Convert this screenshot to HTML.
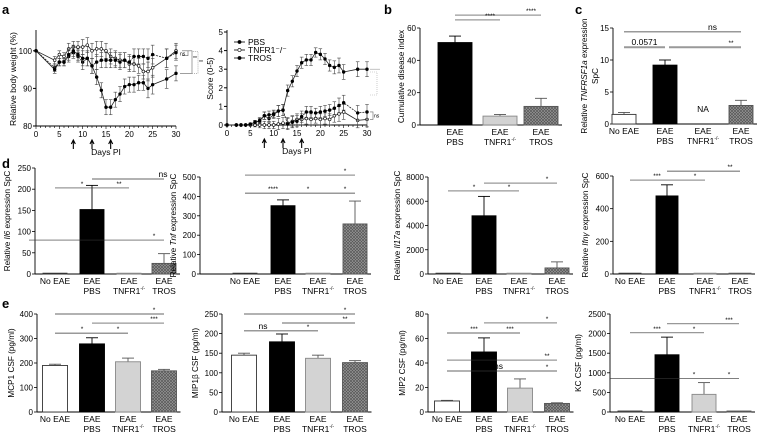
<!DOCTYPE html>
<html><head><meta charset="utf-8"><style>
html,body{margin:0;padding:0;background:#fff;}
svg{display:block;font-family:"Liberation Sans",Arial,sans-serif;}
</style></head><body>
<svg id="fig" width="760" height="435" viewBox="0 0 760 435" xmlns="http://www.w3.org/2000/svg">
<defs>
<pattern id="hatch" width="3" height="3" patternUnits="userSpaceOnUse">
<rect width="3" height="3" fill="#9a9a9a"/>
<path d="M0,0 L3,3 M3,0 L0,3" stroke="#555" stroke-width="0.7"/>
</pattern>
</defs>
<g font-weight="bold" font-size="13" fill="#000">
<text x="2" y="14">a</text>
<text x="384" y="14">b</text>
<text x="575" y="14">c</text>
<text x="2" y="168">d</text>
<text x="2" y="308">e</text>
</g>
</svg>
<script>
// ---------- Panel a data ----------
const weightDays = [0,4,5,6,7,8,9,10,11,12,13,14,15,16,17,18,19,20,21,22,23,24,25,28,30];
const weightPBS = [100,95,97,97,99,100,99,98,98,96,93,89.5,85,85,87,88.5,90.5,91,91,91.5,91.5,90,91,92.5,94];
const weightTNFR1 = [100,97.5,99,98.5,100.5,101,101,101,101.5,100,100.5,100.5,100,98.5,98,97.5,97.5,96.5,96.5,96,94.5,94.5,95.5,98,100];
const weightTROS = [100,95.5,97,97,98.5,99.5,98.5,97,98,96,97,97.5,97.5,97.5,97.5,97,97.5,97,98.5,98.5,98.5,98,99,98,99.5];
const weightErr = [0,1,1,1,1.5,1.5,1.5,2,2,2,2,2,2,2,2,2,2,2,2,2,2,2.5,2.5,2.5,2];
const weightTicksY = [80,90,100];
const weightTicksX = [0,5,10,15,20,25,30];
const scoreDays = [0,2,3,4,5,6,7,8,9,10,11,12,13,14,15,16,17,18,19,20,21,22,23,24,25,28,30];
const scorePBS = [0,0,0,0,0.05,0.15,0.25,0.5,0.55,0.6,0.75,0.8,1.85,2.35,2.9,3.35,3.5,3.5,3.9,3.8,3.55,3.2,3.1,3.2,2.85,3.0,3.0];
const scoreTNFR1 = [0,0,0,0,0,0,0,0,0,0,0.05,0.1,0.1,0.2,0.3,0.3,0.35,0.3,0.35,0.3,0.35,0.3,0.5,0.6,0.7,0.25,0.3];
const scoreTROS = [0,0,0,0,0.05,0.15,0.2,0.5,0.35,0.55,0.75,0.8,0.05,0.15,0.2,0.45,0.7,0.7,0.65,0.7,0.75,0.8,0.9,1.05,1.2,0.65,0.7];
const scoreErr = [0,0,0,0,0.05,0.1,0.15,0.2,0.2,0.2,0.3,0.3,0.3,0.3,0.3,0.3,0.3,0.3,0.25,0.3,0.3,0.3,0.35,0.4,0.4,0.4,0.4];
const scoreTicksY = [0,1,2,3,4,5];
const arrowDays = [8,12,16];

// ---------- Bar chart data ----------
const catsB = ["EAE|PBS","EAE|TNFR1-/-","EAE|TROS"];
const valsB = [51,5.5,11.5];
const errB = [4,1,5];
const ticksB = [0,20,40,60];
const cats4 = ["No EAE","EAE|PBS","EAE|TNFR1-/-","EAE|TROS"];
const valsC = [1.5,9.2,0,2.9];
const errC = [0.3,0.8,0,0.8];
const ticksC = [0,5,10,15];
const valsIl6 = [1,152,1,25];
const errIl6 = [0,57,0,23];
const ticksIl6 = [0,50,100,150,200,250];
const valsTnf = [1,352,2,258];
const errTnf = [0,30,0,118];
const ticksTnf = [0,100,200,300,400,500];
const valsIl17 = [0,4800,0,500];
const errIl17 = [0,1600,0,500];
const ticksIl17 = [0,2000,4000,6000,8000];
const valsIfng = [2,478,2,2];
const errIfng = [0,68,0,0];
const ticksIfng = [0,200,400,600];
const valsMCP1 = [190,278,205,168];
const errMCP1 = [5,25,15,6];
const ticksMCP1 = [0,100,200,300,400];
const valsMIP1b = [145,179,137,126];
const errMIP1b = [5,20,8,5];
const ticksMIP1b = [0,50,100,150,200,250];
const valsMIP2 = [9,49,19.5,7];
const errMIP2 = [0.5,11.5,7.5,0.5];
const ticksMIP2 = [0,20,40,60,80];
const valsKC = [25,1460,450,25];
const errKC = [0,450,300,0];
const ticksKC = [0,500,1000,1500,2000,2500];

const NS = "http://www.w3.org/2000/svg";
const svg = document.getElementById('fig');
function mk(tag, attrs, parent, txt){
  const e = document.createElementNS(NS, tag);
  for (const k in attrs) e.setAttribute(k, attrs[k]);
  if (txt !== undefined) e.textContent = txt;
  (parent||svg).appendChild(e);
  return e;
}

// ---------- Line charts ----------
function lineChart(o){
  const g = mk('g', {});
  
  
  const X = d => o.x0 + (d - o.xmin) * (o.x1 - o.x0) / (o.xmax - o.xmin);
  const Y = v => o.y0 - (v - o.ymin) * (o.y0 - o.y1) / (o.ymax - o.ymin);
  mk('line', {x1:o.x0, y1:o.y0, x2:o.x0, y2:o.y1-2, stroke:'#000', 'stroke-width':0.9}, g);
  mk('line', {x1:o.x0, y1:o.y0, x2:o.x1, y2:o.y0, stroke:'#000', 'stroke-width':0.9}, g);
  o.ticksY.forEach(t => {
    mk('line', {x1:o.x0-3, y1:Y(t), x2:o.x0, y2:Y(t), stroke:'#000'}, g);
    const tl = mk('text', {x:o.x0-4, y:Y(t)+3, 'font-size':8, 'text-anchor':'end'}, g, t);
    
    
  });
  for (let d = o.xmin; d <= o.xmax; d++) {
    const big = d % 5 === 0;
    mk('line', {x1:X(d), y1:o.y0, x2:X(d), y2:o.y0+(big?3:2), stroke:'#000', 'stroke-width':0.6}, g);
  }
  o.ticksX.forEach(t => {
    const tl = mk('text', {x:X(t), y:o.y0+11, 'font-size':8, 'text-anchor':'middle'}, g, t);
    
    
  });
  arrowDays.forEach(d => {
    const a = mk('path', {d:`M${X(d)},${o.y0+23} L${X(d)},${o.y0+15} M${X(d)-2},${o.y0+18} L${X(d)},${o.y0+14} L${X(d)+2},${o.y0+18}`, stroke:'#000', 'stroke-width':1.1, fill:'none'}, g);
    
    
  });
  const xt = mk('text', {x:(o.x0+o.x1)/2, y:o.y0+29, 'font-size':8.5, 'text-anchor':'middle'}, g, 'Days PI');
  
  
  const yt = mk('text', {x:0, y:0, 'font-size':8.5, 'text-anchor':'middle', transform:`translate(${o.ylabX},${(o.y0+o.y1)/2}) rotate(-90)`}, g, o.ylabel);
  
  
  o.series.forEach(s => {
    const sg = mk('g', {}, g);
    
    
    s.vals.forEach((v,i) => {
      const x = X(o.days[i]);
      mk('line', {x1:x, y1:Y(v+o.err[i]), x2:x, y2:Y(v-o.err[i]), stroke:'#444', 'stroke-width':0.6}, sg);
      mk('line', {x1:x-1.8, y1:Y(v+o.err[i]), x2:x+1.8, y2:Y(v+o.err[i]), stroke:'#444', 'stroke-width':0.6}, sg);
      mk('line', {x1:x-1.8, y1:Y(v-o.err[i]), x2:x+1.8, y2:Y(v-o.err[i]), stroke:'#444', 'stroke-width':0.6}, sg);
    });
    const pts = s.vals.map((v,i) => X(o.days[i]) + ',' + Y(v)).join(' ');
    const pl = mk('polyline', {points:pts, fill:'none', stroke:'#222', 'stroke-width':0.8, 'stroke-dasharray':s.dash||'none'}, sg);
    
    
    s.vals.forEach((v,i) => {
      const c = mk('circle', {cx:X(o.days[i]), cy:Y(v), r:1.4, fill:s.open?'#fff':'#000', stroke:'#000', 'stroke-width':0.6}, sg);
      
      
    });
  });
  return {g, X, Y};
}

const wa = lineChart({name:'weight-chart', x0:36, x1:176, xmin:0, xmax:30, y0:126, y1:32, ymin:80, ymax:105,
  ticksY:weightTicksY, ticksX:weightTicksX, ylabel:'Relative body weight (%)', ylabX:16, days:weightDays, err:weightErr,
  series:[{key:'tnfr1',vals:weightTNFR1,open:true},{key:'tros',vals:weightTROS,dash:'2,1'},{key:'pbs',vals:weightPBS}]});
mk('path', {d:`M182,${wa.Y(100)} L188,${wa.Y(100)} L188,${wa.Y(98.7)} L182,${wa.Y(98.7)}`, fill:'none', stroke:'#666', 'stroke-width':0.6}, wa.g);
mk('text', {x:180, y:wa.Y(99.3)+2, 'font-size':5}, wa.g, 'ns');
mk('path', {d:`M180,${wa.Y(94)} L192,${wa.Y(94)} L192,${wa.Y(100)} L188,${wa.Y(100)}`, fill:'none', stroke:'#666', 'stroke-width':0.6}, wa.g);
mk('path', {d:`M192,${wa.Y(94)} L198,${wa.Y(94)} L198,${wa.Y(99.8)} L192,${wa.Y(99.8)}`, fill:'none', stroke:'#888', 'stroke-width':0.6, 'stroke-dasharray':'1,1'}, wa.g);
mk('text', {x:193, y:wa.Y(97.5), 'font-size':5}, wa.g, '**');
mk('text', {x:199, y:wa.Y(96.5), 'font-size':5}, wa.g, '**');

const sa = lineChart({name:'score-chart', x0:227, x1:367, xmin:0, xmax:30, y0:125, y1:32, ymin:0, ymax:5,
  ticksY:scoreTicksY, ticksX:weightTicksX, ylabel:'Score (0-5)', ylabX:213, days:scoreDays, err:scoreErr,
  series:[{key:'tnfr1',vals:scoreTNFR1,open:true},{key:'tros',vals:scoreTROS,dash:'2,1'},{key:'pbs',vals:scorePBS}]});
mk('line', {x1:370, y1:sa.Y(3), x2:380, y2:sa.Y(3), stroke:'#999', 'stroke-width':0.6}, sa.g);
mk('path', {d:`M370,${sa.Y(0.7)} L373,${sa.Y(0.7)} L373,${sa.Y(0.3)} L370,${sa.Y(0.3)}`, fill:'none', stroke:'#666', 'stroke-width':0.6}, sa.g);
mk('text', {x:374, y:sa.Y(0.5)+2, 'font-size':5}, sa.g, 'ns');
const legItems = [['PBS',false,42],['TNFR1⁻/⁻',true,50],['TROS',false,58]];
legItems.forEach(li => {
  const lg = mk('g', {});
  
  
  mk('line', {x1:234, y1:li[2], x2:245, y2:li[2], stroke:'#000', 'stroke-width':0.8}, lg);
  mk('circle', {cx:239.5, cy:li[2], r:1.6, fill:li[1]?'#fff':'#000', stroke:'#000', 'stroke-width':0.6}, lg);
  mk('text', {x:248, y:li[2]+3, 'font-size':8.5}, lg, li[0]);
});
mk('path', {d:'M370,72 L377,72 L377,95 L370,95', fill:'none', stroke:'#aaa', 'stroke-width':0.6, 'stroke-dasharray':'1,1'}, svg);

// ---------- Bar charts ----------
const fills = {'No EAE':['#fff','#333'],'EAE|PBS':['#000','#000'],'EAE|TNFR1-/-':['#d3d3d3','#888'],'EAE|TROS':['url(#hatch)','#555']};
function barChart(o){
  const g = mk('g', {});
  
  
  const ymax = o.ticks[o.ticks.length-1];
  const Y = v => o.y0 - v * (o.y0 - o.y1) / ymax;
  const X = i => o.centers[i];
  const xr = o.centers[o.centers.length-1] + o.bw/2 + 4;
  mk('line', {x1:o.x0, y1:o.y0, x2:o.x0, y2:o.y1, stroke:'#000', 'stroke-width':0.9}, g);
  mk('line', {x1:o.x0, y1:o.y0, x2:xr, y2:o.y0, stroke:'#000', 'stroke-width':0.9}, g);
  o.ticks.forEach(t => {
    mk('line', {x1:o.x0-3, y1:Y(t), x2:o.x0, y2:Y(t), stroke:'#000', 'stroke-width':0.8}, g);
    const tl = mk('text', {x:o.x0-4, y:Y(t)+3, 'font-size':8, 'text-anchor':'end'}, g, t);
    
    
  });
  o.cats.forEach((c,i) => {
    const parts = c.split('|');
    const t = mk('text', {x:X(i), y:o.y0+10, 'font-size':8.5, 'text-anchor':'middle'}, g);
    
    
    parts.forEach((p,j) => {
      const ts = mk('tspan', {x:X(i), dy:j?10:0}, t);
      if (p === 'TNFR1-/-') { ts.textContent = 'TNFR1'; mk('tspan', {'font-size':5, dy:-4}, t, '-/-'); mk('tspan', {dy:4}, t, ''); }
      else ts.textContent = p;
    });
    const v = o.vals[i];
    if (o.na && o.na[i]) {
      mk('text', {x:X(i), y:o.y0-12, 'font-size':8.5, 'text-anchor':'middle'}, g, 'NA');
      return;
    }
    const f = fills[c];
    const e = o.errs[i];
    if (e > 0) {
      const ec = f[1]==='#000'?'#000':'#555';
      mk('line', {x1:X(i), y1:Y(v), x2:X(i), y2:Y(v+e), stroke:ec, 'stroke-width':0.9}, g);
      mk('line', {x1:X(i)-6, y1:Y(v+e), x2:X(i)+6, y2:Y(v+e), stroke:ec, 'stroke-width':0.9}, g);
    }
    const h = Math.max(o.y0 - Y(v), 0.8);
    const r = mk('rect', {x:X(i)-o.bw/2, y:o.y0-h, width:o.bw, height:h, fill:f[0], stroke:f[1], 'stroke-width':0.9}, g);
    
    
  });
  (o.sig||[]).forEach(s => {
    const x1 = X(s[0]) - (s[4]||0), x2 = X(s[1]);
    const sl = mk('line', {x1:x1, y1:Y(s[2]), x2:x2, y2:Y(s[2]), stroke:s[5]||'#333', 'stroke-width':s[5]?2:0.7}, g);
    
    
    const isTxt = s[3] === 'ns' || s[3] === '0.0571';
    const lx = isTxt ? (x1+x2)/2 + (s[6]||0) : x2 - 10;
    mk('text', {x:lx, y:Y(s[2]) - 2, 'font-size':isTxt?8.5:6.5, 'text-anchor':'middle'}, g, s[3]);
  });
  const lab = mk('text', {x:0, y:0, 'font-size':8.2, 'text-anchor':'middle', transform:`translate(${o.ylabX},${(o.y0+o.y1)/2}) rotate(-90)`}, g);
  
  
  o.ylabel.forEach(part => {
    const ts = mk('tspan', {}, lab, part[0]);
    if (part[1]) ts.setAttribute('font-style', 'italic');
  });
  if (o.ylabel2) {
    const lab2 = mk('text', {x:0, y:0, 'font-size':8.2, 'text-anchor':'middle', transform:`translate(${o.ylabX+11},${(o.y0+o.y1)/2}) rotate(-90)`}, g, o.ylabel2);
    
    
  }
}

barChart({name:'cumulative-disease-chart', x0:420, y0:125, y1:28, bw:34, centers:[455,500,541], cats:catsB, vals:valsB, errs:errB, ticks:ticksB,
  ylabel:[['Cumulative disease index']], ylabX:404,
  sig:[[0,2,68,'****'],[0,1,65,'****']]});
barChart({name:'tnfrsf1a-chart', x0:613, y0:124, y1:28, bw:24, centers:[624,665,703,741], cats:cats4, vals:valsC, errs:errC, ticks:ticksC, na:[0,0,1,0],
  ylabel:[['Relative '],['TNFRSF1a',1],[' expression']], ylabel2:'SpC', ylabX:587,
  sig:[[0,3,14.4,'ns',0,null,30],[0,1,12,'0.0571',0,'#999'],[1,3,12,'**',-4,'#999']]});
barChart({name:'il6-chart', x0:35, y0:274, y1:168, bw:24, centers:[55,92,129,164], cats:cats4, vals:valsIl6, errs:errIl6, ticks:ticksIl6,
  ylabel:[['Relative '],['Il6',1],[' expression SpC']], ylabX:10,
  sig:[[0,1,203,'*'],[1,2,203,'**'],[1,3,224,'ns',0,null,35],[0,3,80,'*',26]]});
barChart({name:'tnf-chart', x0:200, y0:274, y1:177, bw:24, centers:[245,283,318,355], cats:cats4, vals:valsTnf, errs:errTnf, ticks:ticksTnf,
  ylabel:[['Relative '],['Tnf',1],[' expression SpC']], ylabX:176,
  sig:[[0,3,510,'*'],[0,1,417,'****'],[1,2,417,'*'],[2,3,417,'*']]});
barChart({name:'il17a-chart', x0:428, y0:274, y1:177, bw:24, centers:[448,484,519,557], cats:cats4, vals:valsIl17, errs:errIl17, ticks:ticksIl17,
  ylabel:[['Relative '],['Il17a',1],[' expression SpC']], ylabX:400,
  sig:[[0,1,6850,'*'],[1,2,6850,'*'],[1,3,7500,'*']]});
barChart({name:'ifng-chart', x0:613, y0:274, y1:176, bw:22, centers:[630,667,705,740], cats:cats4, vals:valsIfng, errs:errIfng, ticks:ticksIfng,
  ylabel:[['Relative '],['Ifn\u03b3',1],[' expression SpC']], ylabX:588,
  sig:[[0,1,575,'***'],[1,2,575,'*'],[1,3,630,'**']]});
barChart({name:'mcp1-chart', x0:37, y0:412, y1:314, bw:25, centers:[55,92,128,164], cats:cats4, vals:valsMCP1, errs:errMCP1, ticks:ticksMCP1,
  ylabel:[['MCP1 CSF (pg/ml)']], ylabX:14,
  sig:[[0,3,400,'*'],[1,3,363,'***'],[0,1,322,'*'],[1,2,322,'*']]});
barChart({name:'mip1b-chart', x0:222, y0:412, y1:314, bw:25, centers:[244,282,318,355], cats:cats4, vals:valsMIP1b, errs:errMIP1b, ticks:ticksMIP1b,
  ylabel:[['MIP1\u03b2 CSF (pg/ml)']], ylabX:198,
  sig:[[0,3,250,'*'],[1,3,227,'**'],[0,1,207,'ns'],[1,2,207,'*']]});
barChart({name:'mip2-chart', x0:428, y0:412, y1:314, bw:25, centers:[447,484,520,557], cats:cats4, vals:valsMIP2, errs:errMIP2, ticks:ticksMIP2,
  ylabel:[['MIP2 CSF (pg/ml)']], ylabX:405,
  sig:[[1,3,72.7,'*'],[0,1,64.5,'***'],[1,2,64.5,'***'],[0,3,42.4,'**'],[0,2,33.5,'ns',0,null,15],[2,3,33.5,'*']]});
barChart({name:'kc-chart', x0:610, y0:412, y1:314, bw:24, centers:[630,667,704,739], cats:cats4, vals:valsKC, errs:errKC, ticks:ticksKC,
  ylabel:[['KC CSF (pg/ml)']], ylabX:581,
  sig:[[0,1,2020,'***'],[1,2,2020,'*'],[1,3,2250,'***'],[0,2,850,'*',20],[2,3,850,'*']]});
</script>
</body></html>
